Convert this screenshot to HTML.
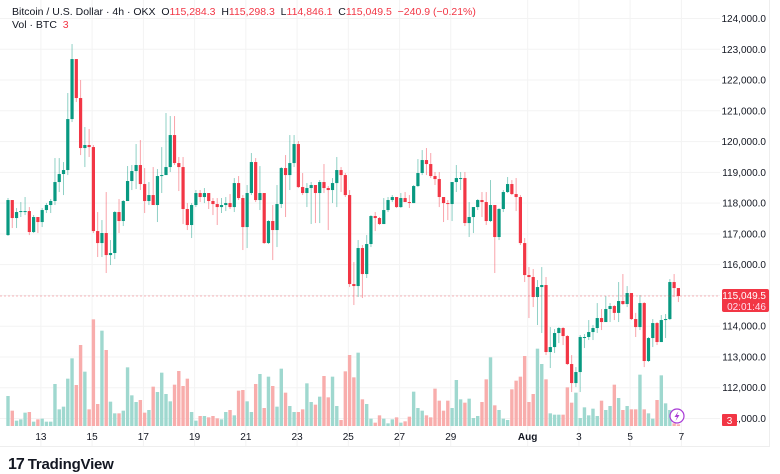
<!DOCTYPE html>
<html><head><meta charset="utf-8">
<style>
html,body{margin:0;padding:0;background:#fff;}
body{width:780px;height:470px;overflow:hidden;position:relative;font-family:"Liberation Sans",sans-serif;}
#hdr{position:absolute;left:12px;top:6px;font-size:10.5px;color:#131722;line-height:13px;}
#hdr .r{color:#f23645;}
#logo{position:absolute;left:8px;top:456px;font-size:15px;font-weight:bold;color:#131722;letter-spacing:-0.2px;}
</style></head>
<body>
<svg id="chart" width="780" height="470" style="position:absolute;left:0;top:0">
  <g id="grid"></g>
  <g id="vols"></g>
  <g id="candles"></g>
  <line x1="0" x2="720" y1="296" y2="296" stroke="#f23645" stroke-width="0.6" stroke-dasharray="2,2" opacity="0.7"/>
  <line x1="0" x2="770" y1="446.5" y2="446.5" stroke="#eeeeee"/>
  <line x1="769.5" x2="769.5" y1="0" y2="446" stroke="#eeeeee"/>
  <g id="yaxis"></g>
  <g id="xaxis"></g>
  <g>
    <rect x="722" y="289" width="47" height="23" rx="2" fill="#f23645"/>
    <text x="766" y="299" font-size="10" fill="#fff" text-anchor="end" font-family="Liberation Sans, sans-serif">115,049.5</text>
    <text x="766" y="310" font-size="10" fill="#fde" text-anchor="end" font-family="Liberation Sans, sans-serif">02:01:46</text>
  </g>
  <g>
    <rect x="722" y="414" width="15" height="12" rx="1" fill="#f23645"/>
    <text x="729.5" y="424" font-size="10" fill="#fff" text-anchor="middle" font-family="Liberation Sans, sans-serif">3</text>
  </g>
  <g>
    <circle cx="677" cy="416" r="7" fill="#fff" stroke="#a93bd6" stroke-width="1.2"/>
    <path d="M678.5 411 L674.5 417 L677 417 L675.5 421 L679.5 415 L677 415 Z" fill="#a93bd6"/>
  </g>
</svg>
<div id="hdr">
  <div>Bitcoin / U.S. Dollar · 4h · OKX&nbsp; O<span class="r">115,284.3</span>&nbsp; H<span class="r">115,298.3</span>&nbsp; L<span class="r">114,846.1</span>&nbsp; C<span class="r">115,049.5</span>&nbsp; <span class="r">−240.9 (−0.21%)</span></div>
  <div>Vol · BTC&nbsp; <span class="r">3</span></div>
</div>
<div id="logo"><span style="font-size:16px;letter-spacing:-1px">17</span> TradingView</div>
<script>
const closes=[118100,117515,117710,117742,117742,117060,117548,117385,117775,117938,118068,118685,118945,119075,120732,122682,121415,119790,119888,119822,117092,116702,117028,116312,116378,117710,117418,118068,118718,119042,119238,118620,118068,118262,117938,118880,118912,119172,120212,119302,119172,117808,117288,117938,118328,118198,118328,118068,117970,117872,117938,118002,117872,118652,118165,117222,118328,119335,118100,118328,116702,117418,117125,117970,119140,118912,119302,119920,118522,118328,118490,118588,118328,118685,118490,118425,118652,119075,118912,118262,115370,115305,116540,115695,116670,117580,117515,117320,117775,118100,118198,117872,118165,118035,118002,118555,118978,119400,119270,118880,118782,118198,118002,117970,118685,118815,118815,117352,117548,117872,118100,118035,117418,117938,116898,117808,118360,118620,118295,118198,116702,115662,115598,114948,115272,115338,113160,113322,113778,113940,113680,112770,112152,112510,113648,113648,113810,113940,114265,114135,114558,114655,114432,114818,114720,115078,114232,113972,114752,112868,113615,114102,113485,114200,114232,115435,115240,114980];
const highs=[118165,118002,117840,118035,118198,117872,117612,117548,117840,118002,118132,119465,119465,119335,121578,123170,122650,122000,120472,120408,119888,117710,117450,118360,116800,117742,118132,118100,119205,119238,119920,120050,119140,118685,119172,119108,119822,120928,120830,120830,119498,119498,118002,118002,118425,118425,118490,118328,118165,118165,118165,118198,118295,118815,118880,118262,118588,119628,119465,119205,118328,117450,117938,118588,119172,119562,120212,120212,120018,118978,118652,118685,118588,118750,119270,118555,118815,119498,119172,118978,118425,116085,116800,116638,116962,117612,117710,117548,118165,118198,118262,118198,118328,118360,118262,118588,119432,119725,119790,119628,119010,119010,118165,118100,118685,119238,119010,119010,118035,117872,118132,118360,118360,118750,117938,117840,118425,118848,118750,118815,118262,116865,115922,115858,115500,115922,115598,113972,113908,113972,113972,113712,113062,112672,113712,113745,114200,114038,114752,114558,114980,114752,114688,115435,115695,115305,115078,114432,115012,114785,113648,114232,114135,114362,114395,115532,115695,115240];
const lows=[116930,117190,117190,117548,117612,116962,117028,117028,117222,117678,117678,117938,118360,118262,118912,120635,121285,119562,119172,119498,117028,116248,116248,115728,115988,116182,117028,117255,118132,118425,118458,118425,117678,117938,117938,117385,118328,118912,119010,119238,118392,117320,117125,116865,117872,118035,118002,117808,117612,117288,117678,117742,117808,117710,118100,116475,116540,118262,118035,117775,116670,116670,116150,116572,117840,117548,118425,119172,118490,118262,117872,117320,117352,117352,118328,117125,118002,117872,118360,118198,115272,114688,114948,114915,115565,116572,117092,117288,117320,117710,118035,117840,117840,118035,117840,118035,118522,118912,118912,118815,118588,117872,117385,117450,117418,118360,118425,117255,116898,117028,117775,117548,117288,117385,115728,116800,117710,118328,118262,117742,116638,115435,114265,114622,114038,113778,113062,112640,113128,113452,113388,112738,111860,112022,111860,113290,113550,113550,113778,113875,114135,114135,114200,114135,114688,114622,114200,113648,113875,112672,112835,113322,113388,113485,113615,114200,114948,114785];
const firstOpen=116962;
const volumes=[90,46,16,20,40,42,13,20,22,13,13,126,50,58,142,203,123,243,163,50,320,66,286,228,73,38,38,46,176,92,72,78,40,48,118,102,160,96,74,124,165,120,142,42,16,30,30,26,30,23,20,42,48,32,106,108,74,42,126,156,54,148,120,58,172,100,60,42,42,50,128,72,64,88,150,86,148,60,18,164,213,146,220,80,66,22,10,32,22,8,20,26,10,14,28,103,54,46,32,26,112,76,46,76,54,138,80,70,82,24,30,72,140,206,62,48,22,18,110,136,148,210,72,96,232,186,140,38,34,34,34,116,70,100,24,56,32,52,30,76,48,60,124,84,48,60,50,50,154,50,38,22,78,152,68,48,8,5];
const priceTicks=[124000,123000,122000,121000,120000,119000,118000,117000,116000,115000,114000,113000,112000,111000];
const dateLabels=["13","15","17","19","21","23","25","27","29","Aug","3","5","7"];
const dateDayOffset=[0,2,4,6,8,10,12,14,16,19,21,23,25];

const NS="http://www.w3.org/2000/svg";
const X0=8,STEP=4.27,FIRST_DAY_IDX=7.7,CANDLES_PER_DAY=6;
function xOf(i){return X0+i*STEP;}
function xOfDay(d){return xOf(FIRST_DAY_IDX+d*CANDLES_PER_DAY);}
function yOf(p){return 18.5+(124000-p)*400/13000;}
const VBASE=426;
function vh(v){return v/3;}
function mk(tag,attrs,parent){const e=document.createElementNS(NS,tag);for(const k in attrs)e.setAttribute(k,attrs[k]);parent.appendChild(e);return e;}
const G=document.getElementById('grid'),C=document.getElementById('candles'),V=document.getElementById('vols'),YA=document.getElementById('yaxis'),XA=document.getElementById('xaxis');

priceTicks.forEach(p=>{
  const y=yOf(p);
  const l=mk('line',{x1:0,x2:720,y1:y,y2:y,stroke:'#f3f3f3','stroke-width':1},G);
  
  
  if(p===115000||p===111000) return;
  const t=mk('text',{x:766,y:y+3.5,'font-size':10,'text-anchor':'end',fill:'#131722','font-family':'Liberation Sans, sans-serif'},YA);
  t.textContent=p.toLocaleString('en-US')+'.0';
  
  
});
{const t=mk('text',{x:766,y:yOf(111000)+3.5,'font-size':10,'text-anchor':'end',fill:'#131722','font-family':'Liberation Sans, sans-serif'},YA);
 t.textContent='1,000.0';
 
 }
dateLabels.forEach((d,k)=>{
  const x=xOfDay(dateDayOffset[k]);
  const l=mk('line',{x1:x,x2:x,y1:0,y2:446,stroke:'#f3f3f3','stroke-width':1},G);
  
  
  const t=mk('text',{x:x,y:440,'font-size':10,'text-anchor':'middle',fill:'#131722','font-weight':d==='Aug'?'bold':'normal','font-family':'Liberation Sans, sans-serif'},XA);
  t.textContent=d;
  
  
});

for(let i=0;i<closes.length;i++){
  const o=i===0?firstOpen:closes[i-1], c=closes[i];
  const up=c>=o;
  const col=up?'#089981':'#f23645';
  const x=xOf(i);
  const v=volumes[i]||0;
  const vb=mk('rect',{x:x-1.7,y:VBASE-vh(v),width:3.4,height:vh(v),fill:up?'#9fd8cf':'#f8adac'},V);
  
  
  const h=Math.max(highs[i],o,c),l=Math.min(lows[i],o,c);
  const w=mk('line',{x1:x,x2:x,y1:yOf(h),y2:yOf(l),stroke:col,'stroke-width':1,opacity:0.45},C);
  
  
  const top=yOf(Math.max(o,c)),bot=yOf(Math.min(o,c));
  const b=mk('rect',{x:x-1.6,y:top,width:3.2,height:Math.max(1,bot-top),fill:col},C);
  
  
}
</script>
</body></html>
